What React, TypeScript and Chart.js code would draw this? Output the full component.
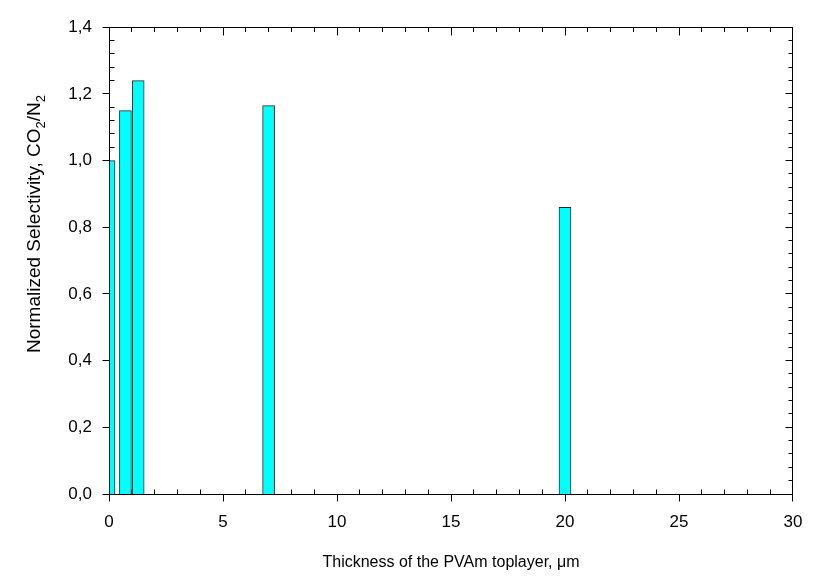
import React, { useEffect, useRef } from 'react';
import { Chart, registerables } from 'chart.js';

Chart.register(...registerables);

// Data
const thicknessUm = [0, 0.72, 1.28, 7, 20];
const normalizedSelectivity = [1.0, 1.15, 1.24, 1.165, 0.86];

const xMin = 0;
const xMax = 30;
const xMajorStep = 5;
const xMinorStep = 1;
const yMin = 0;
const yMax = 1.4;
const yMajorStep = 0.2;
const yMinorStep = 0.04;

const xTitle = 'Thickness of the PVAm toplayer, μm';
const yTitleParts = [
  { text: 'Normalized Selectivity, CO', sub: false },
  { text: '2', sub: true },
  { text: '/N', sub: false },
  { text: '2', sub: true },
];

const FONT = 'Arial, "Liberation Sans", Helvetica, sans-serif';

function frameCoords(chart: any) {
  const a = chart.chartArea;
  const c = (p: number) => Math.floor(p) + 0.5;
  return {
    c,
    L: c(a.left),
    R: c(a.right - 1),
    T: c(a.top),
    B: c(a.bottom),
  };
}

const framePlugin = {
  id: 'frameTicksTitles',
  beforeDatasetsDraw(chart: any) {
    const { ctx, scales } = chart;
    const xs = scales.x;
    const ys = scales.y;
    const { c, L, R, T, B } = frameCoords(chart);
    ctx.save();
    ctx.strokeStyle = '#000';
    ctx.lineWidth = 1;
    ctx.beginPath();
    const nx = Math.round((xMax - xMin) / xMinorStep);
    for (let i = 0; i <= nx; i++) {
      const v = xMin + i * xMinorStep;
      const major = i % Math.round(xMajorStep / xMinorStep) === 0;
      const px = Math.min(R, Math.max(L, c(xs.getPixelForValue(v))));
      if (major) {
        ctx.moveTo(px, B); ctx.lineTo(px, B + 7);
        ctx.moveTo(px, T); ctx.lineTo(px, T + 8);
      } else {
        ctx.moveTo(px, B); ctx.lineTo(px, B - 5);
        ctx.moveTo(px, T); ctx.lineTo(px, T + 4.5);
      }
    }
    const ny = Math.round((yMax - yMin) / yMinorStep);
    for (let i = 0; i <= ny; i++) {
      const v = yMin + i * yMinorStep;
      const major = i % Math.round(yMajorStep / yMinorStep) === 0;
      const py = Math.min(B, Math.max(T, c(ys.getPixelForValue(v))));
      if (major) {
        ctx.moveTo(L - 7, py); ctx.lineTo(L, py);
        ctx.moveTo(R - 7, py); ctx.lineTo(R, py);
      } else {
        ctx.moveTo(L, py); ctx.lineTo(L + 5, py);
        ctx.moveTo(R - 4, py); ctx.lineTo(R, py);
      }
    }
    ctx.stroke();
    ctx.restore();
  },
  afterDatasetsDraw(chart: any) {
    const { ctx } = chart;
    const { L, R, T, B } = frameCoords(chart);
    ctx.save();
    ctx.strokeStyle = '#000';
    ctx.lineWidth = 1;
    ctx.beginPath();
    ctx.rect(L, T, R - L, B - T);
    ctx.stroke();
    ctx.restore();
  },
  afterDraw(chart: any) {
    const { ctx, chartArea: a } = chart;
    ctx.save();
    ctx.fillStyle = '#000';
    ctx.font = `16px ${FONT}`;
    ctx.textAlign = 'center';
    ctx.textBaseline = 'alphabetic';
    ctx.fillText(xTitle, (a.left + a.right) / 2, 567);

    // y title with subscripts, rotated
    const mainFont = `19px ${FONT}`;
    const subFont = `13px ${FONT}`;
    let total = 0;
    for (const p of yTitleParts) {
      ctx.font = p.sub ? subFont : mainFont;
      total += ctx.measureText(p.text).width;
    }
    ctx.translate(40, 224);
    ctx.rotate(-Math.PI / 2);
    ctx.textAlign = 'left';
    let cx = -total / 2;
    for (const p of yTitleParts) {
      ctx.font = p.sub ? subFont : mainFont;
      ctx.fillText(p.text, cx, p.sub ? 5 : 0);
      cx += ctx.measureText(p.text).width;
    }
    ctx.restore();
  },
};

export default function App() {
  const ref = useRef<HTMLCanvasElement | null>(null);
  useEffect(() => {
    document.body.style.margin = '0';
    const canvas = ref.current;
    if (!canvas) return;
    const chart = new Chart(canvas, {
      type: 'bar',
      data: {
        datasets: [
          {
            data: thicknessUm.map((x, i) => ({ x, y: normalizedSelectivity[i] })),
            backgroundColor: '#00FFFF',
            borderColor: '#2a2a2a',
            borderWidth: 1,
            barThickness: 12,
            clip: 0,
          } as any,
        ],
      },
      options: {
        responsive: false,
        animation: false,
        events: [],
        layout: { padding: { left: 0, top: 15, right: 28, bottom: 0 } },
        plugins: { legend: { display: false }, tooltip: { enabled: false } },
        scales: {
          x: {
            type: 'linear',
            min: xMin,
            max: xMax,
            offset: false,
            grid: { display: false, drawTicks: false },
            border: { display: false },
            ticks: {
              stepSize: xMajorStep,
              padding: 18,
              color: '#000',
              font: { family: FONT, size: 17 },
              maxRotation: 0,
              callback: (v: any) => String(v),
            },
            afterFit: (s: any) => { s.height = 86; },
          },
          y: {
            type: 'linear',
            min: yMin,
            max: yMax,
            grid: { display: false, drawTicks: false },
            border: { display: false },
            ticks: {
              stepSize: yMajorStep,
              padding: 17,
              color: '#000',
              font: { family: FONT, size: 17 },
              callback: (v: any) => Number(v).toFixed(1).replace('.', ','),
            },
            afterFit: (s: any) => { s.width = 109; },
          },
        },
      },
      plugins: [framePlugin],
    });
    return () => chart.destroy();
  }, []);
  return (
    <div style={{ position: 'absolute', left: 0, top: 0, width: 821, height: 580, background: '#fff' }}>
      <canvas ref={ref} width={821} height={580} style={{ width: 821, height: 580, display: 'block' }} />
    </div>
  );
}
